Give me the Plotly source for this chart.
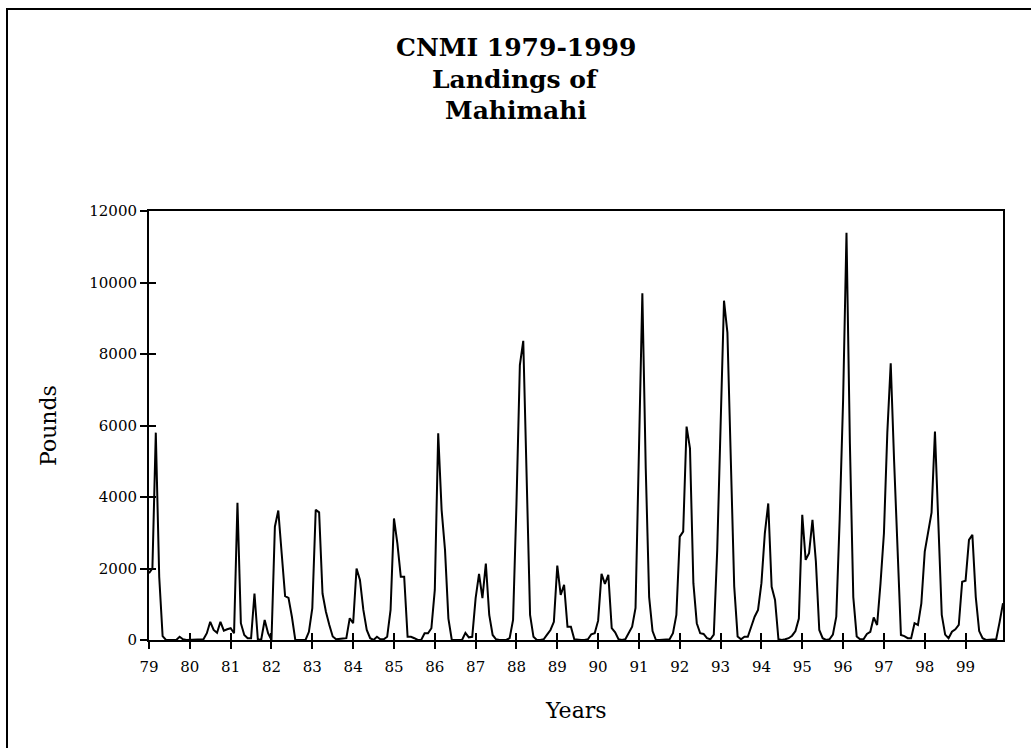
import plotly.graph_objects as go

# Monthly landings (pounds), Jan..Dec for each year
y1979 = [1870, 2000, 5800, 1770, 110, 0, 0, 0, 0, 90, 20, 0]
y1980 = [0, 0, 0, 0, 20, 190, 510, 280, 200, 510, 260, 300]
y1981 = [330, 190, 3840, 470, 140, 50, 50, 1300, 0, 20, 560, 190]
y1982 = [0, 3170, 3620, 2420, 1230, 1180, 650, 0, 0, 0, 0, 230]
y1983 = [890, 3640, 3570, 1300, 790, 420, 100, 20, 20, 40, 50, 610]
y1984 = [470, 2000, 1680, 840, 280, 50, 0, 90, 20, 20, 90, 840]
y1985 = [3400, 2700, 1770, 1770, 90, 90, 50, 0, 0, 190, 190, 330]
y1986 = [1400, 5780, 3640, 2520, 600, 0, 0, 0, 0, 200, 75, 90]
y1987 = [1170, 1850, 1170, 2140, 700, 140, 20, 0, 0, 0, 50, 560]
y1988 = [3800, 7690, 8370, 4700, 700, 90, 0, 0, 20, 150, 280, 510]
y1989 = [2080, 1260, 1540, 370, 370, 20, 0, 0, 0, 20, 160, 190]
y1990 = [540, 1850, 1570, 1820, 330, 215, 20, 0, 20, 190, 370, 900]
y1991 = [5300, 9700, 4800, 1200, 250, 0, 0, 0, 20, 20, 190, 700]
y1992 = [2890, 3030, 5970, 5360, 1590, 470, 190, 170, 50, 20, 150, 2500]
y1993 = [6000, 9490, 8600, 5000, 1500, 100, 20, 90, 90, 370, 650, 840]
y1994 = [1590, 2980, 3820, 1490, 1120, 20, 0, 20, 50, 120, 250, 600]
y1995 = [3500, 2240, 2430, 3360, 2200, 280, 50, 0, 20, 150, 650, 3400]
y1996 = [6700, 11390, 5500, 1200, 100, 20, 20, 170, 230, 630, 420, 1585]
y1997 = [2980, 5800, 7740, 5000, 2300, 140, 110, 50, 50, 470, 420, 1025]
y1998 = [2470, 3000, 3560, 5830, 3000, 700, 150, 50, 230, 300, 420, 1630]
y1999 = [1660, 2800, 2940, 1200, 250, 50, 0, 0, 0, 20, 500, 1030]

year_labels = ["79", "80", "81", "82", "83", "84", "85", "86", "87", "88",
               "89", "90", "91", "92", "93", "94", "95", "96", "97", "98", "99"]
y_ticks = [0, 2000, 4000, 6000, 8000, 10000, 12000]
y_tick_labels = ["0", "2000", "4000", "6000", "8000", "10000", "12000"]
title_lines = ["CNMI 1979-1999", "Landings of", "Mahimahi"]

yearly = [y1979, y1980, y1981, y1982, y1983, y1984, y1985, y1986, y1987, y1988,
          y1989, y1990, y1991, y1992, y1993, y1994, y1995, y1996, y1997, y1998, y1999]
values = [v for yr in yearly for v in yr]
months = list(range(len(values)))
tick_pos = [12 * k for k in range(len(year_labels))]

FONT = "DejaVu Serif"
W, H = 1031, 748
L, R, T, B = 149, 28, 211, 108
PW, PH = W - L - R, H - T - B


def px_x(px):
    return (px - L) / PW


def px_y(py):
    return (H - B - py) / PH


fig = go.Figure()
fig.add_trace(go.Scatter(x=months, y=values, mode="lines",
                         line=dict(color="black", width=2),
                         showlegend=False, hoverinfo="skip"))
# twin trace (invisible) carrying the inner half of the crossing tick marks
fig.add_trace(go.Scatter(x=months, y=values, mode="lines", xaxis="x2", yaxis="y2",
                         line=dict(color="rgba(0,0,0,0)", width=1),
                         showlegend=False, hoverinfo="skip"))

axis_common = dict(showgrid=False, zeroline=False, color="black")

annotations = []
for line, yc in zip(title_lines, [47, 79, 110]):
    annotations.append(dict(text="<b>%s</b>" % line, xref="paper", yref="paper",
                            x=px_x(W / 2), y=px_y(yc), showarrow=False,
                            font=dict(family=FONT, size=25, color="black"),
                            xanchor="center", yanchor="middle"))
annotations += [
    dict(text="Pounds", xref="paper", yref="paper",
         x=px_x(48), y=px_y(426), showarrow=False,
         textangle=-90, font=dict(family=FONT, size=22, color="black"),
         xanchor="center", yanchor="middle"),
    dict(text="Years", xref="paper", yref="paper",
         x=px_x(576), y=px_y(710), showarrow=False,
         font=dict(family=FONT, size=22, color="black"),
         xanchor="center", yanchor="middle"),
]

fig.update_layout(
    width=W, height=H,
    margin=dict(l=L, r=R, t=T, b=B, pad=0),
    paper_bgcolor="white", plot_bgcolor="white",
    font=dict(family=FONT, color="black", size=15),
    xaxis=dict(range=[0, len(values) - 1], tickmode="array", tickvals=tick_pos,
               ticktext=year_labels, ticks="outside", ticklen=7, tickwidth=2,
               tickcolor="black", showline=True, linewidth=2, linecolor="black",
               mirror=True, tickfont=dict(family=FONT, size=15, color="black"),
               ticklabelstandoff=5, **axis_common),
    yaxis=dict(range=[0, 12000], tickmode="array", tickvals=y_ticks,
               ticktext=y_tick_labels,
               ticks="outside", ticklen=7, tickwidth=2, tickcolor="black",
               showline=True, linewidth=2, linecolor="black", mirror=True,
               tickfont=dict(family=FONT, size=15, color="black"),
               **axis_common),
    xaxis2=dict(overlaying="x", anchor="y2", side="bottom",
                range=[0, len(values) - 1],
                tickmode="array", tickvals=tick_pos, ticks="inside", ticklen=7,
                tickwidth=2, tickcolor="black", showticklabels=False,
                showline=False, **axis_common),
    yaxis2=dict(overlaying="y", anchor="x2", side="left", range=[0, 12000],
                tickmode="array", tickvals=y_ticks, ticks="inside", ticklen=7,
                tickwidth=2, tickcolor="black", showticklabels=False,
                showline=False, **axis_common),
    annotations=annotations,
    shapes=[
        dict(type="rect", xref="paper", yref="paper",
             x0=px_x(7), x1=px_x(W + 10),
             y0=px_y(H + 10), y1=px_y(9),
             line=dict(color="black", width=2), fillcolor="rgba(0,0,0,0)",
             layer="below"),
    ],
)

fig.write_html("out.html", config={"displayModeBar": False},
               post_script="document.body.style.margin='0';document.body.style.overflow='hidden';")
